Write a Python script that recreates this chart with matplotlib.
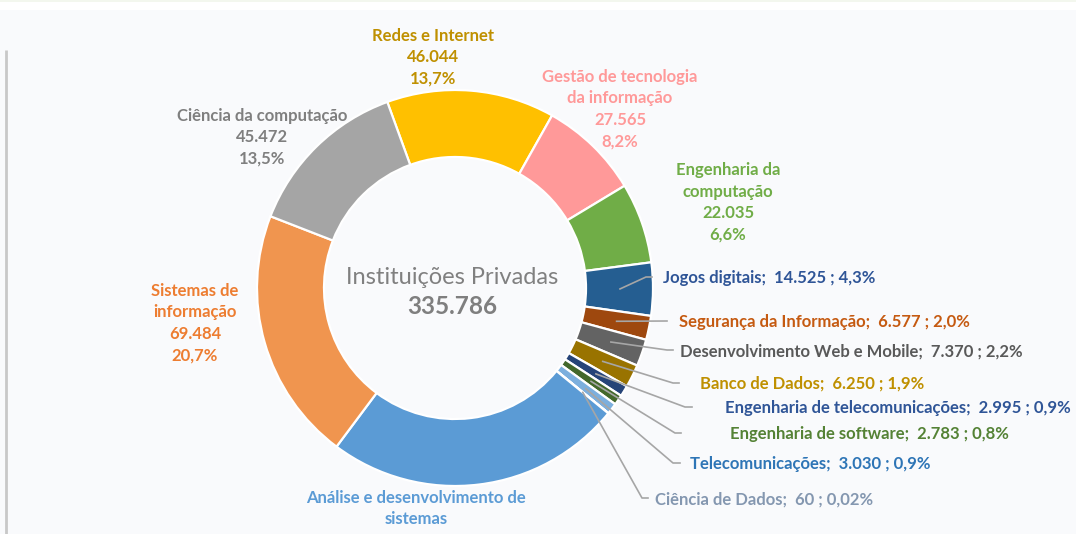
import numpy as np
import matplotlib
matplotlib.use('Agg')
import matplotlib.pyplot as plt

# data, clockwise from the top
cursos = ['Redes e Internet', 'Gestão de tecnologia da informação', 'Engenharia da computação',
          'Jogos digitais', 'Segurança da Informação', 'Desenvolvimento Web e Mobile',
          'Banco de Dados', 'Engenharia de telecomunicações', 'Engenharia de software',
          'Telecomunicações', 'Ciência de Dados', 'Análise e desenvolvimento de sistemas',
          'Sistemas de informação', 'Ciência da computação']
matriculas = [46044, 27565, 22035, 14525, 6577, 7370, 6250, 2995, 2783, 3030, 60, 81596, 69484, 45472]
pct_labels = ['13,7%', '8,2%', '6,6%', '4,3%', '2,0%', '2,2%', '1,9%', '0,9%', '0,8%',
              '0,9%', '0,02%', '24,3%', '20,7%', '13,5%']
total_label = '335.786'
center_title = 'Instituições Privadas'

slice_colors = ['#ffc000', '#ff9999', '#70ad47', '#255e91', '#9e480e', '#636363', '#997300',
                '#264478', '#43682b', '#7cafdd', '#b4c7e7', '#5b9bd5', '#f0954f', '#a5a5a5']
text_colors = ['#bf9000', '#ff9999', '#70ad47', '#2f5597', '#c55a11', '#595959', '#bf9000',
               '#2f5597', '#548235', '#2e75b6', '#8497b0', '#5b9bd5', '#ed7d31', '#7f7f7f']

W, H = 1076, 534
plt.rcParams['font.family'] = ['Lato', 'DejaVu Sans']

fig = plt.figure(figsize=(W / 100, H / 100), dpi=100)
fig.patch.set_facecolor('#f9fafc')
ax = fig.add_axes([0, 0, 1, 1])

def py(y):
    # pixel row (from top) -> data y
    return H - y

cx, cy, R = 455, py(288), 198
wedges, _ = ax.pie(matriculas, colors=slice_colors, startangle=110, counterclock=False,
                   center=(cx, cy), radius=R,
                   wedgeprops=dict(width=67, edgecolor='white', linewidth=1.6))
ax.set_xlim(0, W)
ax.set_ylim(0, H)
ax.set_aspect('equal')
ax.axis('off')

def fmt(v):
    return f'{v:,}'.replace(',', '.')

# page decorations
ax.plot([6, 6], [py(50), 0], color='#c8c8c8', lw=2, solid_capstyle='butt')
ax.axhspan(py(10), py(2), color='white', lw=0)
ax.axhspan(py(2), H, color='#f3f7ee', lw=0)

# centre text
ax.text(cx - 3, py(277), center_title, ha='center', va='center', fontsize=17, color='#808080')
ax.text(cx - 3, py(307), total_label, ha='center', va='center', fontsize=17.5,
        color='#7f7f7f', fontweight='bold')

# big labels (centered blocks): index, x, first row y, lines
big = {
    0: (433, 36, ['Redes e Internet']),
    1: (620, 77, ['Gestão de tecnologia', 'da informação']),
    2: (728, 170, ['Engenharia da', 'computação']),
    11: (416, 498, ['Análise e desenvolvimento de', 'sistemas']),
    12: (195, 291, ['Sistemas de', 'informação']),
    13: (262, 116, ['Ciência da computação']),
}
step = 21.5
for i, (x, y0, lines) in big.items():
    rows = list(lines)
    if i != 11:
        rows += [fmt(matriculas[i]), pct_labels[i]]
    for k, row in enumerate(rows):
        ax.text(x, py(y0 + k * step), row, ha='center', va='center', fontsize=12,
                color=text_colors[i], fontweight='bold')

# small labels with leader lines: index, text x, text y, elbow, end
small = {
    3: (663, 278, (646, 277), (652, 277)),
    4: (679, 322, (667, 321), (667, 321)),
    5: (680, 352, (667, 350), (673, 350)),
    6: (700, 384, (673, 383), (679, 383)),
    7: (725, 408, (685, 407), (692, 407)),
    8: (730, 434, (675, 433), (681, 433)),
    9: (690, 464, (673, 463), (680, 463)),
    10: (655, 500, (642, 498), (648, 498)),
}
for i, (tx, ty, elbow, end) in small.items():
    w = wedges[i]
    ang = np.deg2rad((w.theta1 + w.theta2) / 2)
    sx, sy = cx + 165 * np.cos(ang), cy + 165 * np.sin(ang)
    ax.plot([sx, elbow[0], end[0]], [sy, py(elbow[1]), py(end[1])],
            color='#a6a6a6', lw=1.2, zorder=5)
    txt = f'{cursos[i]};  {fmt(matriculas[i])} ; {pct_labels[i]}'
    ax.text(tx, py(ty), txt, ha='left', va='center', fontsize=12,
            color=text_colors[i], fontweight='bold')

plt.savefig('out.png', dpi=100, facecolor=fig.get_facecolor())
